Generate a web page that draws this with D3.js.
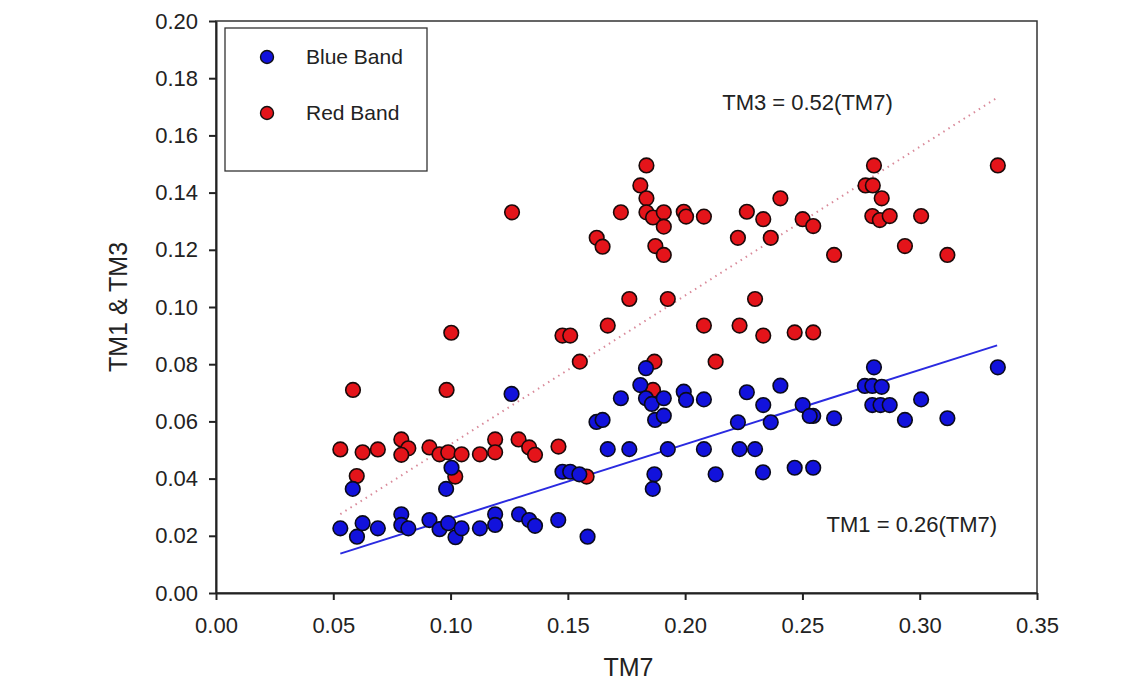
<!DOCTYPE html>
<html>
<head>
<meta charset="utf-8">
<script src="https://cdn.jsdelivr.net/npm/d3@7"></script>
<style>
  body { margin: 0; background: #fff; }
  svg { display: block; font-family: "Liberation Sans", Arial, sans-serif; }
  .axis path, .axis line { stroke: #222; }
  .axis text { font-size: 22px; fill: #222; }
</style>
</head>
<body>
<svg id="chart" width="1143" height="683"></svg>
<script>
// TM7 vs TM1 (blue band)
const blueX = [0.053, 0.0601, 0.0625, 0.069, 0.079, 0.079, 0.082, 0.091, 0.0953, 0.099,
  0.1021, 0.1047, 0.1125, 0.119, 0.119, 0.1292, 0.1335, 0.136, 0.1459, 0.1584,
  0.0583, 0.0981, 0.1004, 0.1477, 0.151, 0.1549, 0.126,
  0.1622, 0.1648, 0.167, 0.1762, 0.1726, 0.1833, 0.1809, 0.1833, 0.1858, 0.1909,
  0.1872, 0.1909, 0.1869, 0.1862, 0.1926, 0.1994, 0.2004, 0.208, 0.208, 0.213,
  0.2232, 0.2298, 0.2263, 0.2333, 0.2406, 0.2225, 0.2365, 0.2332,
  0.2467, 0.2546, 0.2501, 0.2546, 0.2531, 0.2635, 0.2805, 0.2766, 0.2798, 0.2838,
  0.2798, 0.2833, 0.2872, 0.3006, 0.2937, 0.3118, 0.3333];
const blueY = [0.0226, 0.0197, 0.0244, 0.0226, 0.0275, 0.0238, 0.0226, 0.0255, 0.0223, 0.0244,
  0.0195, 0.0226, 0.0226, 0.0275, 0.0238, 0.0275, 0.0255, 0.0235, 0.0255, 0.0197,
  0.0364, 0.0364, 0.0438, 0.0424, 0.0424, 0.0415, 0.0696,
  0.0598, 0.0605, 0.0503, 0.0503, 0.0681, 0.0786, 0.0727, 0.0681, 0.0661, 0.0681,
  0.0605, 0.062, 0.0415, 0.0364, 0.0503, 0.0704, 0.0675, 0.0677, 0.0503, 0.0415,
  0.0503, 0.0503, 0.0702, 0.0657, 0.0725, 0.0597, 0.0597, 0.0422,
  0.0438, 0.0438, 0.0657, 0.0619, 0.0619, 0.0611, 0.0789, 0.0724, 0.0724, 0.0721,
  0.0657, 0.0657, 0.0657, 0.0677, 0.0605, 0.0611, 0.0789];

// TM7 vs TM3 (red band)
const redX = [0.053, 0.0625, 0.069, 0.079, 0.082, 0.079, 0.091, 0.0953, 0.099, 0.1047,
  0.1125, 0.119, 0.119, 0.129, 0.1335, 0.136, 0.146, 0.060, 0.102, 0.158,
  0.0584, 0.0983, 0.1003, 0.1262,
  0.1835, 0.1809, 0.1835, 0.1726, 0.1835, 0.1863, 0.1909, 0.1909, 0.1994, 0.2004,
  0.208, 0.2263, 0.2333, 0.2406, 0.2225, 0.2365, 0.1623, 0.1648, 0.1873, 0.1909,
  0.1762, 0.1926, 0.2298, 0.167, 0.208, 0.2232, 0.2333, 0.1477, 0.151,
  0.2805, 0.2769, 0.28, 0.2838, 0.2798, 0.283, 0.2872, 0.3006, 0.3333, 0.2501,
  0.2546, 0.2635, 0.2937, 0.3118, 0.2467, 0.2546,
  0.1551, 0.1869, 0.213, 0.1863];
const redY = [0.0502, 0.0492, 0.0502, 0.0537, 0.0506, 0.0483, 0.0509, 0.0485, 0.0492, 0.0485,
  0.0485, 0.0537, 0.0492, 0.0537, 0.0509, 0.0483, 0.0512, 0.0409, 0.0407, 0.0407,
  0.071, 0.071, 0.091, 0.1331,
  0.1495, 0.1425, 0.138, 0.1331, 0.1331, 0.1313, 0.1331, 0.1281, 0.1333, 0.1316,
  0.1316, 0.1333, 0.1307, 0.138, 0.1242, 0.1242, 0.1242, 0.1211, 0.1213, 0.1182,
  0.1028, 0.1028, 0.1028, 0.0935, 0.0935, 0.0935, 0.09, 0.09, 0.09,
  0.1495, 0.1425, 0.1425, 0.138, 0.1318, 0.1304, 0.1318, 0.1318, 0.1495, 0.1307,
  0.1283, 0.1182, 0.1213, 0.1182, 0.0911, 0.0911,
  0.0809, 0.0809, 0.0809, 0.071];

// fitted lines through origin
const blueSlope = 0.26;
const redSlope = 0.52;
const fitRange = [0.053, 0.333];

const xTicks = [0, 0.05, 0.10, 0.15, 0.20, 0.25, 0.30, 0.35];
const yTicks = [0, 0.02, 0.04, 0.06, 0.08, 0.10, 0.12, 0.14, 0.16, 0.18, 0.20];

const svg = d3.select("#chart");
const margin = { left: 216, top: 21, right: 106, bottom: 90 };
const W = 1143, H = 683;
const pw = W - margin.left - margin.right;
const ph = H - margin.top - margin.bottom;

const x = d3.scaleLinear().domain([0, 0.35]).range([margin.left, margin.left + pw]);
const y = d3.scaleLinear().domain([0, 0.20]).range([margin.top + ph, margin.top]);

const BLUE = "#1212dc";
const RED = "#e4141a";

// frame (top and right)
svg.append("rect")
  .attr("x", x(0)).attr("y", y(0.2))
  .attr("width", x(0.35) - x(0)).attr("height", y(0) - y(0.2))
  .attr("fill", "none").attr("stroke", "#333").attr("stroke-width", 1.5);

// axes
svg.append("g")
  .attr("class", "axis")
  .attr("transform", `translate(0,${y(0)})`)
  .call(d3.axisBottom(x).tickValues(xTicks).tickFormat(d3.format(".2f")).tickSize(7).tickPadding(17).tickSizeOuter(0))
  .call(g => g.selectAll("path, line").attr("stroke-width", 2));

svg.append("g")
  .attr("class", "axis")
  .attr("transform", `translate(${x(0)},0)`)
  .call(d3.axisLeft(y).tickValues(yTicks).tickFormat(d3.format(".2f")).tickSize(7).tickPadding(11).tickSizeOuter(0))
  .call(g => g.selectAll("path, line").attr("stroke-width", 2));

// regression lines
svg.append("line")
  .attr("x1", x(fitRange[0])).attr("y1", y(redSlope * fitRange[0]))
  .attr("x2", x(fitRange[1])).attr("y2", y(redSlope * fitRange[1]))
  .attr("stroke", "#d98a9a").attr("stroke-width", 2)
  .attr("stroke-dasharray", "1.5,4.5");

svg.append("line")
  .attr("x1", x(fitRange[0])).attr("y1", y(blueSlope * fitRange[0]))
  .attr("x2", x(fitRange[1])).attr("y2", y(blueSlope * fitRange[1]))
  .attr("stroke", "#2a2ae0").attr("stroke-width", 2);

// points
const R = 7.3;
svg.append("g").selectAll("circle")
  .data(redX.map((v, i) => [v, redY[i]]))
  .enter().append("circle")
  .attr("cx", d => x(d[0])).attr("cy", d => y(d[1])).attr("r", R)
  .attr("fill", RED).attr("stroke", "#1a0a0a").attr("stroke-width", 1.6);

svg.append("g").selectAll("circle")
  .data(blueX.map((v, i) => [v, blueY[i]]))
  .enter().append("circle")
  .attr("cx", d => x(d[0])).attr("cy", d => y(d[1])).attr("r", R)
  .attr("fill", BLUE).attr("stroke", "#0a0a1a").attr("stroke-width", 1.6);

// equations
svg.append("text")
  .attr("x", x(0.2158)).attr("y", y(0.1689))
  .attr("font-size", 22).attr("fill", "#222")
  .text("TM3 = 0.52(TM7)");

svg.append("text")
  .attr("x", x(0.333)).attr("y", y(0.0213))
  .attr("text-anchor", "end")
  .attr("font-size", 22).attr("fill", "#222")
  .text("TM1 = 0.26(TM7)");

// axis titles
svg.append("text")
  .attr("x", (x(0) + x(0.35)) / 2 + 2).attr("y", 676)
  .attr("text-anchor", "middle").attr("font-size", 25).attr("fill", "#222")
  .text("TM7");

svg.append("text")
  .attr("transform", `translate(127,${(y(0) + y(0.2)) / 2}) rotate(-90)`)
  .attr("text-anchor", "middle").attr("font-size", 25).attr("fill", "#222")
  .text("TM1 & TM3");

// legend
const legend = svg.append("g");
legend.append("rect")
  .attr("x", 225).attr("y", 28).attr("width", 202).attr("height", 143)
  .attr("fill", "#fff").attr("stroke", "#333").attr("stroke-width", 1.3);

const legendItems = [["Blue Band", BLUE], ["Red Band", RED]];
legendItems.forEach((item, i) => {
  const cy = 57 + i * 56;
  legend.append("circle")
    .attr("cx", 267).attr("cy", cy).attr("r", 6.5)
    .attr("fill", item[1]).attr("stroke", "#111").attr("stroke-width", 1.4);
  legend.append("text")
    .attr("x", 306).attr("y", cy).attr("dy", "0.35em")
    .attr("font-size", 21).attr("fill", "#222")
    .text(item[0]);
});
</script>
</body>
</html>
